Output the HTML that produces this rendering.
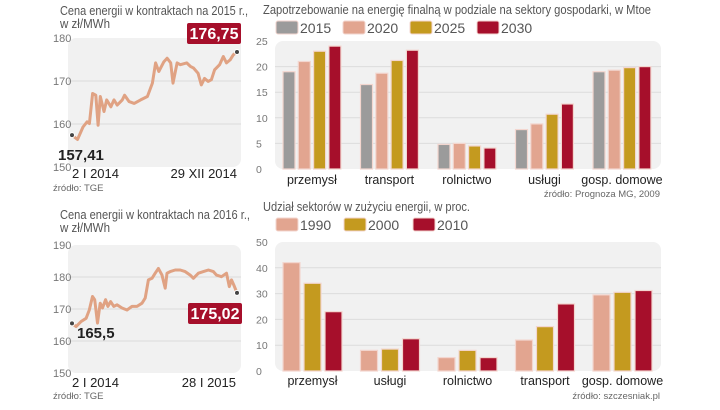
<!DOCTYPE html>
<html><head><meta charset="utf-8"><style>
body{margin:0;background:#fff;width:720px;height:405px;overflow:hidden;font-family:"Liberation Sans",sans-serif;}
svg text{font-family:"Liberation Sans",sans-serif;}
</style></head><body>
<svg id="s" width="720" height="405" viewBox="0 0 720 405" xmlns="http://www.w3.org/2000/svg">
<g id="g"></g>
</svg>
<script>
// ---- line chart 1 (2015 contracts) ----
const days1 = [0,12,24,33,38,45,52,57,62,70,76,85,92,99,110,115,125,136,150,165,176,183,190,201,208,216,221,230,237,251,259,266,276,283,290,298,305,312,323,331,338,346,353,361];
const vals1 = [157.4,156.4,159.3,160.5,160.1,167.1,166.7,159.7,166.4,162.9,165.6,164.0,165.6,164.4,165.6,166.7,165.2,164.8,165.6,166.4,169.5,174.2,172.2,174.5,175.3,174.2,169.5,174.2,173.8,174.2,173.4,173.0,171.8,169.1,170.6,169.9,170.3,172.6,173.8,175.7,174.2,174.9,176.1,176.75];
const ticks1 = [150,160,170,180];
// ---- line chart 2 (2016 contracts) ----
const days2 = [0,9,20,31,38,45,50,56,62,67,74,79,85,92,99,110,121,132,143,154,161,168,176,183,190,198,205,209,216,227,238,249,260,267,278,289,300,311,318,329,340,346,351,356,363];
const vals2 = [165.5,164.5,166.1,167.1,169.7,173.9,172.9,165.6,171.8,170.3,172.9,170.8,172.3,170.8,171.3,170.3,169.7,170.8,170.8,171.8,173.4,179.1,179.6,181.2,182.7,180.6,176.5,181.2,181.7,182.2,182.2,181.7,180.6,179.6,181.2,181.7,182.2,181.7,180.6,180.1,181.2,177.0,179.1,177.5,175.02];
const ticks2 = [150,160,170,180,190];
// ---- bar chart 1 ----
const cats1 = ["przemysł","transport","rolnictwo","usługi","gosp. domowe"];
const years1 = ["2015","2020","2025","2030"];
const s2015 = [19,16.5,4.8,7.7,19];
const s2020 = [21,18.7,5,8.8,19.3];
const s2025 = [23,21.2,4.5,10.7,19.8];
const s2030 = [24,23.2,4.1,12.7,20];
const yticks1 = [0,5,10,15,20,25];
// ---- bar chart 2 ----
const cats2 = ["przemysł","usługi","rolnictwo","transport","gosp. domowe"];
const years2 = ["1990","2000","2010"];
const s1990 = [42,8,5.2,12,29.5];
const s2000 = [34,8.5,8,17.2,30.5];
const s2010 = [23,12.5,5.2,26,31.2];
const yticks2 = [0,10,20,30,40,50];

const NS="http://www.w3.org/2000/svg";
const G=document.getElementById('g');
function el(t,a,txt){const e=document.createElementNS(NS,t);for(const k in a)e.setAttribute(k,a[k]);if(txt!==undefined)e.textContent=txt;G.appendChild(e);return e;}
const GRAY="#9b9b9b",SAL="#e2a590",GOLD="#c49a1f",RED="#a60f2b",LINE="#e0a283";

function txt(x,y,s,t,attrs,name){const a=Object.assign({x:x,y:y,"font-size":s},attrs||{});let e=el('text',a,t);return e;}

function lineChart(o){
  const sy=v=>o.y0-(v-o.vmin)/(o.vmax-o.vmin)*(o.y0-o.y1);
  const sx=d=>o.x0+d/o.dmax*(o.x1-o.x0);
  let r=el('rect',{x:o.x0-4,y:o.y1,width:o.x1-o.x0+8,height:o.y0-o.y1,rx:8,fill:"#f1f1f1"});
  
  o.ticks.forEach(t=>{
    if(t>o.vmin&&t<o.vmax){let l=el('line',{x1:o.x0-4,x2:o.x1+4,y1:sy(t),y2:sy(t),stroke:"#dcdcdc","stroke-width":1});
    }
    txt(53,sy(t)+4,11,t,{fill:"#777"},"y-tick-label");
  });
  const pts=o.days.map((d,i)=>sx(d).toFixed(1)+","+sy(o.vals[i]).toFixed(1)).join(" ");
  let p=el('polyline',{points:pts,fill:"none",stroke:LINE,"stroke-width":3,"stroke-linejoin":"round"});
  
  const n=o.vals.length-1;
  [[sx(o.days[0]),sy(o.vals[0])],[sx(o.days[n]),sy(o.vals[n])]].forEach(c=>{
    let d=el('circle',{cx:c[0],cy:c[1],r:2.5,fill:"#444",stroke:"#fff","stroke-width":1});
    
  });
}

txt(60,15,12.5,"Cena energii w kontraktach na 2015 r.,",{fill:"#555",textLength:188,lengthAdjust:"spacingAndGlyphs"},"chart1-title");
txt(60,28,12.5,"w zł/MWh",{fill:"#555",textLength:50,lengthAdjust:"spacingAndGlyphs"},"chart1-unit");
lineChart({name:"chart1",x0:72,x1:237,y0:167,y1:38,vmin:150,vmax:180,dmax:361,days:days1,vals:vals1,ticks:ticks1});
let b1=el('rect',{x:187,y:23,width:54,height:21,rx:2,fill:RED});
txt(214,39,16,"176,75",{fill:"#fff","font-weight":"bold","text-anchor":"middle"},"end-value");
txt(58,160,15,"157,41",{fill:"#222","font-weight":"bold"},"start-value");
txt(72,178,13,"2 I 2014",{fill:"#222"},"x-start-date");
txt(237,178,13,"29 XII 2014",{fill:"#222","text-anchor":"end"},"x-end-date");
txt(53,191,9.5,"źródło: TGE",{fill:"#666"},"chart1-source");

txt(60,219,12.5,"Cena energii w kontraktach na 2016 r.,",{fill:"#555",textLength:190,lengthAdjust:"spacingAndGlyphs"},"chart2-title");
txt(60,232,12.5,"w zł/MWh",{fill:"#555",textLength:50,lengthAdjust:"spacingAndGlyphs"},"chart2-unit");
lineChart({name:"chart2",x0:72,x1:237,y0:373,y1:245,vmin:150,vmax:190,dmax:363,days:days2,vals:vals2,ticks:ticks2});
let b2=el('rect',{x:188,y:303,width:54,height:21,rx:2,fill:RED});
txt(215,319,16,"175,02",{fill:"#fff","font-weight":"bold","text-anchor":"middle"},"end-value");
txt(77,338,15,"165,5",{fill:"#222","font-weight":"bold"},"start-value");
txt(72,387,13,"2 I 2014",{fill:"#222"},"x-start-date");
txt(236,387,13,"28 I 2015",{fill:"#222","text-anchor":"end"},"x-end-date");
txt(53,399,9.5,"źródło: TGE",{fill:"#666"},"chart2-source");

function barChart(o){
  const sy=v=>o.y0-v/o.vmax*(o.y0-o.y1);
  let r=el('rect',{x:275,y:o.y1,width:386,height:o.y0-o.y1,rx:8,fill:"#f1f1f1"});
  
  o.ticks.forEach(t=>{
    if(t>0&&t<o.vmax){let l=el('line',{x1:275,x2:661,y1:sy(t),y2:sy(t),stroke:"#dcdcdc","stroke-width":1});}
    txt(256,sy(t)+4,10.5,t,{fill:"#777"},"y-tick-label");
  });
  o.cats.forEach((c,ci)=>{
    const gx=283+ci*77.5;
    o.series.forEach((s,si)=>{
      const x=gx+si*o.pitch,y=sy(s[ci]);
      let b=el('rect',{x:x,y:y,width:o.bw,height:o.y0-y,fill:o.colors[si],stroke:"#f3d6cf","stroke-width":1.2});
      
      
    });
    const w=o.series.length*o.pitch-(o.pitch-o.bw);
    txt(gx+w/2,o.labelY,12.5,c,{fill:"#222","text-anchor":"middle"},"category-label");
  });
  o.years.forEach((yr,i)=>{
    const lx=o.legX[i];
    let sw=el('rect',{x:lx,y:o.legY-6,width:22,height:13,rx:2,fill:o.colors[i],stroke:"#f3d6cf","stroke-width":1});
    
    txt(lx+24,o.legY+6,14,yr,{fill:"#555"},"legend-label-"+yr);
  });
}
txt(263,14,12.5,"Zapotrzebowanie na energię finalną w podziale na sektory gospodarki, w Mtoe",{fill:"#555",textLength:388,lengthAdjust:"spacingAndGlyphs"},"bar-chart1-title");
barChart({name:"bar-chart1",y0:169,y1:41,vmax:25,ticks:yticks1,cats:cats1,years:years1,series:[s2015,s2020,s2025,s2030],colors:[GRAY,SAL,GOLD,RED],pitch:15.3,bw:12,labelY:184,legY:27,legX:[276,343,410,477]});
txt(660,197,9.5,"źródło: Prognoza MG, 2009",{fill:"#666","text-anchor":"end"},"bar-chart1-source");

txt(263,211,12.5,"Udział sektorów w zużyciu energii, w proc.",{fill:"#555",textLength:207,lengthAdjust:"spacingAndGlyphs"},"bar-chart2-title");
barChart({name:"bar-chart2",y0:371,y1:242,vmax:50,ticks:yticks2,cats:cats2,years:years2,series:[s1990,s2000,s2010],colors:[SAL,GOLD,RED],pitch:21,bw:17,labelY:385,legY:224,legX:[276,344,413]});
txt(660,399,9.5,"źródło: szczesniak.pl",{fill:"#666","text-anchor":"end"},"bar-chart2-source");
</script>
</body></html>
